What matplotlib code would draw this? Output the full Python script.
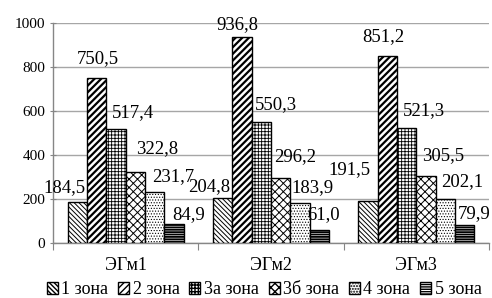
import numpy as np
import matplotlib
matplotlib.use('Agg')
import matplotlib.pyplot as plt

plt.rcParams['font.family'] = ['Liberation Serif', 'DejaVu Serif']

# chart data
groups = ['ЭГм1', 'ЭГм2', 'ЭГм3']
zones = ['1 зона', '2 зона', '3а зона', '3б зона', '4 зона', '5 зона']
values = [
    [184.5, 204.8, 191.5],   # 1 зона
    [750.5, 936.8, 851.2],   # 2 зона
    [517.4, 550.3, 521.3],   # 3а зона
    [322.8, 296.2, 305.5],   # 3б зона
    [231.7, 183.9, 202.1],   # 4 зона
    [84.9, 61.0, 79.9],      # 5 зона
]
yticks = [0, 200, 400, 600, 800, 1000]

# styling per zone
hatches = ['\\' * 7, '/' * 5, '+' * 5, 'x' * 4, '.' * 6, '-' * 7]
hatch_lw = [0.7, 1.6, 0.6, 0.7, 0.5, 1.3]

# label offsets (pixels) from bar top-center, copied look of the original
label_dx = [[-13, -13, -18], [1, -5, -4], [17, 15, 17],
            [22, 14, 17], [18, 12, 17], [15, 4, 9]]
label_dy = [[15, 11, 31], [19, 12, 19], [17, 17, 18],
            [23, 21, 20], [15, 15, 17], [10, 15, 12]]


def fmt(v):
    return f'{v:.1f}'.replace('.', ',')


fig = plt.figure(figsize=(4.92, 2.98), dpi=100)
ax = fig.add_axes([53 / 492, 55 / 298, 436 / 492, 220 / 298])

x = np.arange(len(groups))
n = len(zones)
w = 0.8 / n
for j in range(n):
    pos = x + (j - (n - 1) / 2) * w
    with plt.rc_context({'hatch.linewidth': hatch_lw[j]}):
        bars = ax.bar(pos, values[j], w, color='white', edgecolor='black',
                      linewidth=1.0, hatch=hatches[j], label=zones[j], zorder=3)
    for b in bars:
        if hasattr(b, 'set_hatch_linewidth'):
            b.set_hatch_linewidth(hatch_lw[j])
    for i, b in enumerate(bars):
        ax.annotate(fmt(values[j][i]),
                    (b.get_x() + b.get_width() / 2, b.get_height()),
                    xytext=(label_dx[j][i], label_dy[j][i]),
                    textcoords='offset pixels', ha='center', va='center',
                    fontsize=13.5, zorder=4)

ax.set_xlim(-0.5, len(groups) - 0.5)
ax.set_ylim(0, 1000)
ax.set_yticks(yticks)
ax.tick_params(axis='y', direction='inout', length=5, color='#868686',
               labelsize=11, pad=3)
ax.set_xticks(np.arange(len(groups) + 1) - 0.5)
ax.set_xticklabels([])
ax.set_xticks(x, minor=True)
ax.set_xticklabels(groups, minor=True, fontsize=13)
ax.tick_params(axis='x', which='major', direction='out', length=5, color='#868686')
ax.tick_params(axis='x', which='minor', length=0, pad=10)

ax.grid(axis='y', color='#a6a6a6', linewidth=1.0, zorder=0)
ax.set_axisbelow(True)
for s in ['top', 'right']:
    ax.spines[s].set_visible(False)
for s in ['left', 'bottom']:
    ax.spines[s].set_color('#868686')
    ax.spines[s].set_linewidth(1.0)

fig.legend(loc='center', bbox_to_anchor=(0.537, 0.028), ncol=n, frameon=False,
           fontsize=13, handlelength=0.6, handleheight=0.6,
           handletextpad=0.2, columnspacing=0.55, borderaxespad=0)

fig.savefig('out.png', dpi=100)
